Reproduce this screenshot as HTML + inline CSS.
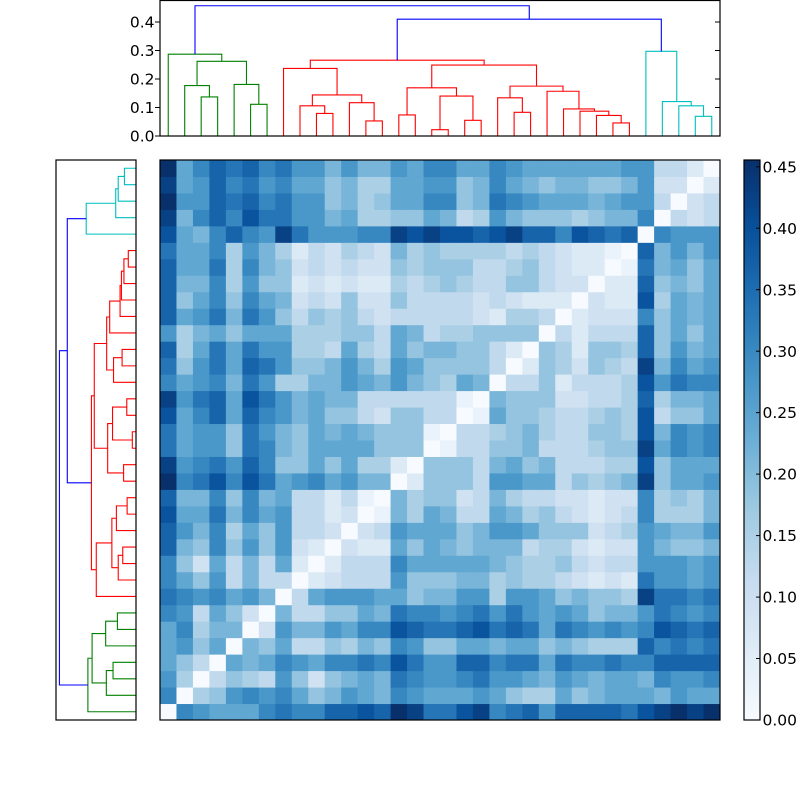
<!DOCTYPE html>
<html><head><meta charset="utf-8"><style>
html,body{margin:0;padding:0;background:#fff;}
svg{display:block;}
text{font-family:"DejaVu Sans","Liberation Sans",sans-serif;font-size:15.5px;fill:#000;}
</style></head><body>
<svg id="s" width="800" height="800" viewBox="0 0 800 800" xmlns="http://www.w3.org/2000/svg">
<defs><linearGradient id="cb" x1="0" y1="1" x2="0" y2="0">
<stop offset="0" stop-color="#f7fbff"/><stop offset="0.125" stop-color="#deebf7"/><stop offset="0.25" stop-color="#c6dbef"/><stop offset="0.375" stop-color="#9ecae1"/><stop offset="0.5" stop-color="#6baed6"/><stop offset="0.625" stop-color="#4292c6"/><stop offset="0.75" stop-color="#2171b5"/><stop offset="0.875" stop-color="#08519c"/><stop offset="1" stop-color="#08306b"/>
</linearGradient></defs>
<rect x="0" y="0" width="800" height="800" fill="#fff"/>
<g id="heat"></g>
<g id="dtop" fill="none" stroke-width="1.1"></g>
<g id="dleft" fill="none" stroke-width="1.1"></g>
<!-- frames -->
<rect x="160" y="0.5" width="560" height="135.5" fill="none" stroke="#000" stroke-width="1.2"/>
<rect x="56" y="160" width="80" height="560" fill="none" stroke="#000" stroke-width="1.2"/>
<rect x="160" y="160" width="560" height="560" fill="none" stroke="#000" stroke-width="1.2"/>
<rect x="744" y="160" width="16" height="560" fill="url(#cb)" stroke="#000" stroke-width="1.2"/>
<!-- top dendrogram ticks -->
<g stroke="#000" stroke-width="1">
<line x1="155" y1="136" x2="160" y2="136"/><line x1="155" y1="107.5" x2="160" y2="107.5"/><line x1="155" y1="79" x2="160" y2="79"/><line x1="155" y1="50.5" x2="160" y2="50.5"/><line x1="155" y1="22" x2="160" y2="22"/>
<line x1="715" y1="107.5" x2="720" y2="107.5"/><line x1="715" y1="79" x2="720" y2="79"/><line x1="715" y1="50.5" x2="720" y2="50.5"/><line x1="715" y1="22" x2="720" y2="22"/>
<!-- colorbar ticks -->
<line x1="756" y1="166.8" x2="760" y2="166.8"/><line x1="756" y1="228.2" x2="760" y2="228.2"/><line x1="756" y1="289.7" x2="760" y2="289.7"/><line x1="756" y1="351.2" x2="760" y2="351.2"/><line x1="756" y1="412.6" x2="760" y2="412.6"/><line x1="756" y1="474.1" x2="760" y2="474.1"/><line x1="756" y1="535.6" x2="760" y2="535.6"/><line x1="756" y1="597.1" x2="760" y2="597.1"/><line x1="756" y1="658.5" x2="760" y2="658.5"/>
</g>
<g text-anchor="end">
<text x="154.5" y="141.6">0.0</text>
<text x="154.5" y="113.1">0.1</text>
<text x="154.5" y="84.6">0.2</text>
<text x="154.5" y="56.1">0.3</text>
<text x="154.5" y="27.6">0.4</text>
</g>
<g text-anchor="start">
<text x="762.5" y="172.4">0.45</text>
<text x="762.5" y="233.8">0.40</text>
<text x="762.5" y="295.3">0.35</text>
<text x="762.5" y="356.8">0.30</text>
<text x="762.5" y="418.2">0.25</text>
<text x="762.5" y="479.7">0.20</text>
<text x="762.5" y="541.2">0.15</text>
<text x="762.5" y="602.7">0.10</text>
<text x="762.5" y="664.1">0.05</text>
<text x="762.5" y="725.6">0.00</text>
</g>
</svg>
<script>
(function(){
var NS="http://www.w3.org/2000/svg";
var R=[
"0a9887acaaccdcfeb",
"a0669a9a867987b98",
"95046549535687baa",
"8640878a9899badba",
"89680668346576a97",
"8a5770497788aadcb",
"a9486307445588baa",
"ba9a8970588888867",
"a8694744023444866",
"a6384748202444988",
"c76a6969320322878",
"c97a5869443034878",
"d88b7a89442301768",
"c77a6a78442410656",
"fabdadb89a8977026",
"e9ab9ca6686855206",
"b8996ba7688886660",
"b8996b97687876661044667434455d799a",
"d8ac8ca9786643664401866534444c4768",
"e9bc8db9787744444410766624444d4778",
"a89a7b95577987976587044644554d9b9a",
"b69b8cb9667975986666402553555c7a89",
"c58b8b99554854867766420652444b6978",
"95786888555664874556666044454a6868",
"c89b7b96465643444443255402222d6878",
"c68a6a87343633644443432220222c6868",
"c77a5966232322545654466433012b6768",
"c88b5a76343433656664456432201c7878",
"b88a5975243543756555545432210c7979",
"d87aca9eb999aaededdcdeccadcbc0a999",
"e7acadbb997855668745976665677a0434",
"f99cbcab99675688aa67ba988878994023",
"e89cab9a886755889967a8767766793302",
"f8acbcab99797798aa88a9888888994420"
];
var stops=[[247,251,255],[222,235,247],[198,219,239],[158,202,225],[107,174,214],[66,146,198],[33,113,181],[8,81,156],[8,48,107]];
function cmap(t){
  if(t<0)t=0;if(t>1)t=1;
  var p=t*8,i=Math.floor(p);if(i>=8)i=7;var f=p-i;
  var a=stops[i],b=stops[i+1];
  return "rgb("+Math.round(a[0]+(b[0]-a[0])*f)+","+Math.round(a[1]+(b[1]-a[1])*f)+","+Math.round(a[2]+(b[2]-a[2])*f)+")";
}
function val(i,j){var a=Math.max(i,j),b=Math.min(i,j);return parseInt(R[a].charAt(b),16)/15;}
var heat=document.getElementById("heat");
var cw=560/34;
for(var i=0;i<34;i++){for(var j=0;j<34;j++){
  var r=document.createElementNS(NS,"rect");
  var x=160+j*cw,y=720-(i+1)*cw;
  r.setAttribute("x",x.toFixed(2));r.setAttribute("y",y.toFixed(2));
  r.setAttribute("width",(cw+0.5).toFixed(2));r.setAttribute("height",(cw+0.5).toFixed(2));
  r.setAttribute("fill",cmap(val(i,j)));
  heat.appendChild(r);
}}
var G=[0,[[1,[2,3,.137],.177],[4,[5,6,.111],.181],.262],.287,"#008000"];
var A=[7,[[8,[9,10,.079],.106],[11,[12,13,.053],.117],.144],.237];
var B1=[[14,15,.074],[[16,17,.022],[18,19,.055],.14],.169];
var B2=[[20,[21,22,.083],.134],[23,[24,[25,[26,[27,28,.046],.072],.087],.095],.157],.175];
var RED=[A,[B1,B2,.249],.266,"#ff0000"];
var CY=[29,[30,[31,[32,33,.069],.106],.121],.297,"#00bfbf"];
var ROOT=[G,[RED,CY,.41],.457];
function draw(node,col,g,P){
  if(typeof node==="number")return [node,0];
  var c=node[3]||col;
  var L=draw(node[0],c,g,P),Rr=draw(node[1],c,g,P),h=node[2];
  var p1=P(L[0],L[1]),p2=P(L[0],h),p3=P(Rr[0],h),p4=P(Rr[0],Rr[1]);
  var path=document.createElementNS(NS,"path");
  path.setAttribute("d","M"+p1[0].toFixed(2)+","+p1[1].toFixed(2)+"L"+p2[0].toFixed(2)+","+p2[1].toFixed(2)+"L"+p3[0].toFixed(2)+","+p3[1].toFixed(2)+"L"+p4[0].toFixed(2)+","+p4[1].toFixed(2));
  path.setAttribute("stroke",c);
  g.appendChild(path);
  return [(L[0]+Rr[0])/2,h];
}
draw(ROOT,"#0000ff",document.getElementById("dtop"),function(p,h){return [160+(p+0.5)*cw,136-h*285];});
draw(ROOT,"#0000ff",document.getElementById("dleft"),function(p,h){return [136-h*167.6,720-(p+0.5)*cw];});
})();
</script>
</body></html>
